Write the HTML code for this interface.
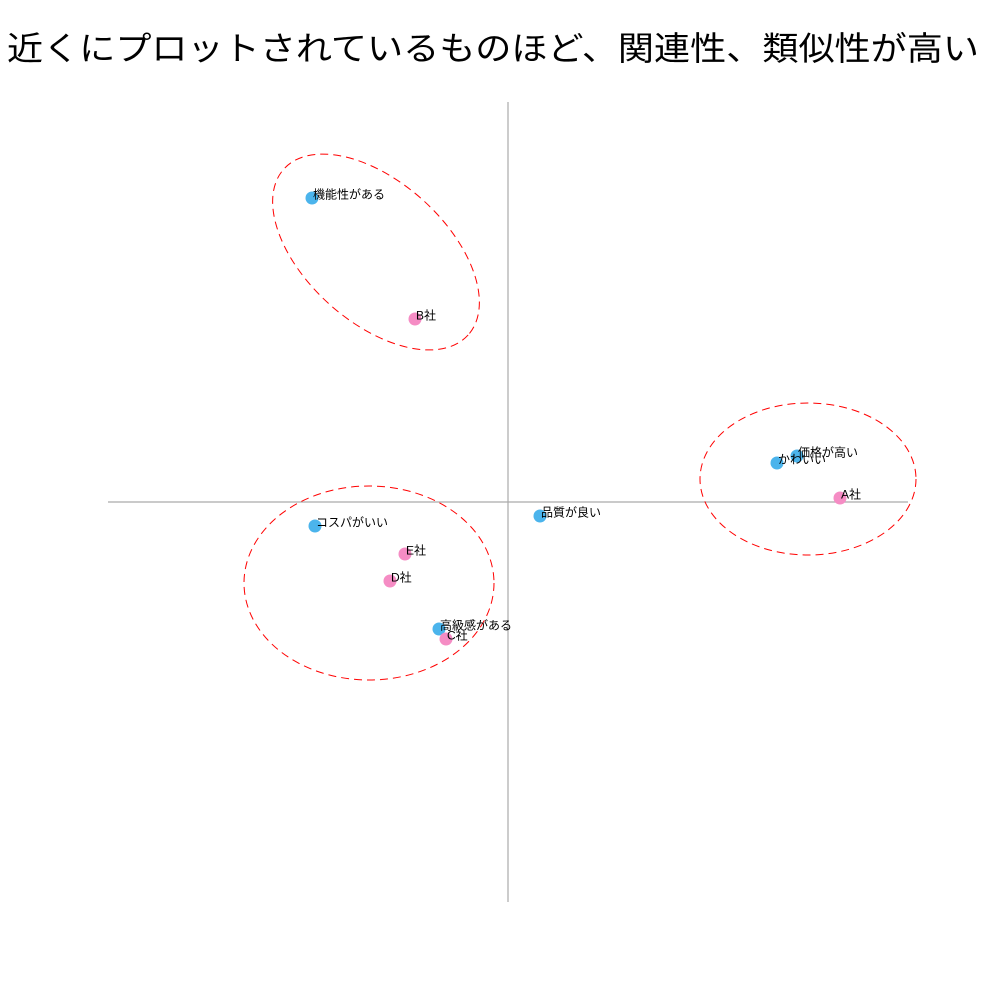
<!DOCTYPE html>
<html><head><meta charset="utf-8"><style>
html,body{margin:0;padding:0;background:#fff;}
svg{display:block;}
text{font-family:"Liberation Sans","Noto Sans CJK JP",sans-serif;}
</style></head><body>
<svg id="chart" width="987" height="987">
<text x="493" y="60" text-anchor="middle" font-size="33" fill="#000" textLength="972" lengthAdjust="spacingAndGlyphs">近くにプロットされているものほど、関連性、類似性が高い</text>
<line x1="508" y1="102" x2="508" y2="902" stroke="#aaa" stroke-width="1.2"/>
<line x1="108" y1="502" x2="908" y2="502" stroke="#aaa" stroke-width="1.2"/>
<ellipse cx="376" cy="252" rx="124" ry="70" transform="rotate(42 376 252)" fill="none" stroke="#f00" stroke-dasharray="8,5"/>
<ellipse cx="808" cy="479" rx="108" ry="76" fill="none" stroke="#f00" stroke-dasharray="8,5"/>
<ellipse cx="369" cy="583" rx="125" ry="97" fill="none" stroke="#f00" stroke-dasharray="8,5"/>
<g id="points"></g>
</svg>
<script>
const labels = ["機能性がある","B社","価格が高い","かわいい","A社","品質が良い","コスパがいい","E社","D社","高級感がある","C社"];
const xValues = [-0.49,-0.2325,0.7225,0.6725,0.83,0.08,-0.4825,-0.2575,-0.295,-0.1725,-0.155];
const yValues = [0.76,0.4575,0.115,0.0975,0.01,-0.035,-0.06,-0.13,-0.1975,-0.3175,-0.3425];
const kinds = ["attr","brand","attr","attr","brand","attr","attr","brand","brand","attr","brand"];
const sx = v => 508 + v*400;
const sy = v => 502 - v*400;
const g = document.getElementById('points');
const ns = "http://www.w3.org/2000/svg";
for (let i=0;i<labels.length;i++){
  const c = document.createElementNS(ns,'circle');
  c.setAttribute('cx', sx(xValues[i]));
  c.setAttribute('cy', sy(yValues[i]));
  c.setAttribute('r', 6.5);
  c.setAttribute('fill', kinds[i]==='attr' ? '#4bb4ec' : '#f58cc4');
  
  
  g.appendChild(c);
}
for (let i=0;i<labels.length;i++){
  const t = document.createElementNS(ns,'text');
  t.setAttribute('x', sx(xValues[i]) + 1);
  t.setAttribute('y', sy(yValues[i]) + 0.5);
  t.setAttribute('font-size', 12);
  t.setAttribute('fill', '#000');
  t.textContent = labels[i];
  
  
  g.appendChild(t);
}
</script>
</body></html>
